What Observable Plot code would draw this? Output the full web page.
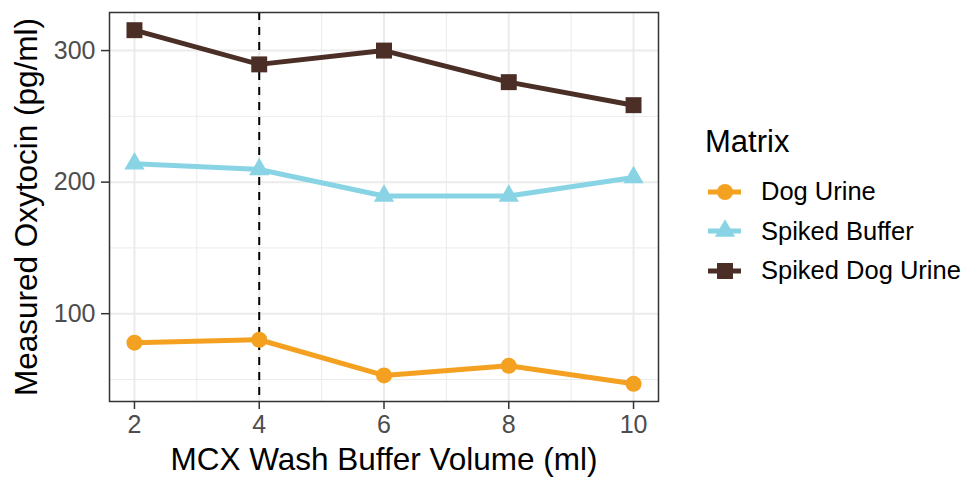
<!DOCTYPE html>
<html>
<head>
<meta charset="utf-8">
<script src="https://cdn.jsdelivr.net/npm/d3@7"></script>
<script src="https://cdn.jsdelivr.net/npm/@observablehq/plot@0.6"></script>
<style>
  html, body { margin: 0; padding: 0; background: #fff; }
  #wrap { position: relative; width: 966px; height: 478px; font-family: "Liberation Sans", Arial, sans-serif; }
  #legend { position: absolute; left: 705px; top: 123px; }
  #legend .title { font-size: 31px; color: #000; line-height: 38px; margin-bottom: 11px; }
  #legend .row { display: flex; align-items: center; height: 39.5px; }
  #legend .row span { font-size: 25.5px; color: #000; margin-left: 19px; }
</style>
</head>
<body>
<div id="wrap"><div id="chart"></div><div id="legend"></div></div>
<script>
const volumes = [2, 4, 6, 8, 10];
const dogUrine = [78, 80.2, 53.1, 60.4, 46.7];
const spikedBuffer = [214, 209.6, 189.5, 189.5, 203.5];
const spikedDogUrine = [315.5, 289.5, 300, 276, 258.5];
const matrices = ["Dog Urine", "Spiked Buffer", "Spiked Dog Urine"];
const colors = ["#F4A020", "#88D4E4", "#4B2F27"];
const symbols = ["circle", "triangle", "square"];
const symbolR = [8, 7.5, 9];
const xTicks = [2, 4, 6, 8, 10];
const xMinor = [3, 5, 7, 9];
const yTicks = [100, 200, 300];
const yMinor = [50, 150, 250];
const refLine = [4];
const xTitle = "MCX Wash Buffer Volume (ml)";
const yTitle = "Measured Oxytocin (pg/ml)";
const legendTitle = "Matrix";

const seriesValues = [dogUrine, spikedBuffer, spikedDogUrine];
const rows = [];
matrices.forEach((m, i) => volumes.forEach((v, j) => rows.push({matrix: m, volume: v, value: seriesValues[i][j]})));

const allVals = rows.map(d => d.value);
const yMin = d3.min(allVals), yMax = d3.max(allVals);
const yPad = (yMax - yMin) * 0.05;
const xPad = (d3.max(volumes) - d3.min(volumes)) * 0.05;

const seriesMarks = [];
matrices.forEach((m, i) => {
  const data = rows.filter(d => d.matrix === m);
  seriesMarks.push(Plot.line(data, {x: "volume", y: "value", stroke: colors[i], strokeWidth: 5, strokeLinejoin: "round"}));
  seriesMarks.push(Plot.dot(data, {x: "volume", y: "value", symbol: () => symbols[i], r: symbolR[i], fill: colors[i], stroke: "none"}));
});

const chart = Plot.plot({
  width: 966,
  height: 478,
  marginLeft: 109,
  marginRight: 308,
  marginTop: 12,
  marginBottom: 77,
  style: {fontFamily: "'Liberation Sans', Arial, sans-serif", background: "#fff"},
  x: {domain: [d3.min(volumes) - xPad, d3.max(volumes) + xPad]},
  y: {domain: [yMin - yPad, yMax + yPad]},
  symbol: {type: "identity"},
  marks: [
    Plot.gridX(xMinor, {stroke: "#EBEBEB", strokeOpacity: 1, strokeWidth: 1}),
    Plot.gridY(yMinor, {stroke: "#EBEBEB", strokeOpacity: 1, strokeWidth: 1}),
    Plot.gridX(xTicks, {stroke: "#EBEBEB", strokeOpacity: 1, strokeWidth: 2}),
    Plot.gridY(yTicks, {stroke: "#EBEBEB", strokeOpacity: 1, strokeWidth: 2}),
    Plot.ruleX(refLine, {stroke: "#000", strokeWidth: 2, strokeDasharray: "8,7"}),
    ...seriesMarks,
    Plot.frame({stroke: "#333", strokeWidth: 1.5}),
    Plot.axisX(xTicks, {label: null, tickSize: 8, tickPadding: 6, fontSize: 25, stroke: "#333", strokeWidth: 1.5, fill: "#4D4D4D"}),
    Plot.axisY(yTicks, {label: null, tickSize: 8, tickPadding: 6, fontSize: 25, stroke: "#333", strokeWidth: 1.5, fill: "#4D4D4D"}),
    Plot.text([xTitle], {frameAnchor: "bottom", lineAnchor: "middle", textAnchor: "middle", dy: 58, fontSize: 31.5, fill: "#000", text: d => d}),
    Plot.text([yTitle], {frameAnchor: "left", lineAnchor: "middle", textAnchor: "middle", dx: -83, rotate: -90, fontSize: 31.5, fill: "#000", text: d => d})
  ]
});
document.getElementById("chart").appendChild(chart);

// Legend
const legend = d3.select("#legend");
legend.append("div").attr("class", "title").text(legendTitle);
matrices.forEach((m, i) => {
  const row = legend.append("div").attr("class", "row");
  const svg = row.append("svg").attr("width", 37).attr("height", 30);
  svg.append("line").attr("x1", 3).attr("x2", 36).attr("y1", 15).attr("y2", 15)
    .attr("stroke", colors[i]).attr("stroke-width", 5);
  svg.append("path")
    .attr("transform", "translate(20,15)")
    .attr("d", d3.symbol(i === 0 ? d3.symbolCircle : i === 1 ? d3.symbolTriangle : d3.symbolSquare, Math.PI * symbolR[i] * symbolR[i])())
    .attr("fill", colors[i]);
  row.append("span").text(m);
});
</script>
</body>
</html>
